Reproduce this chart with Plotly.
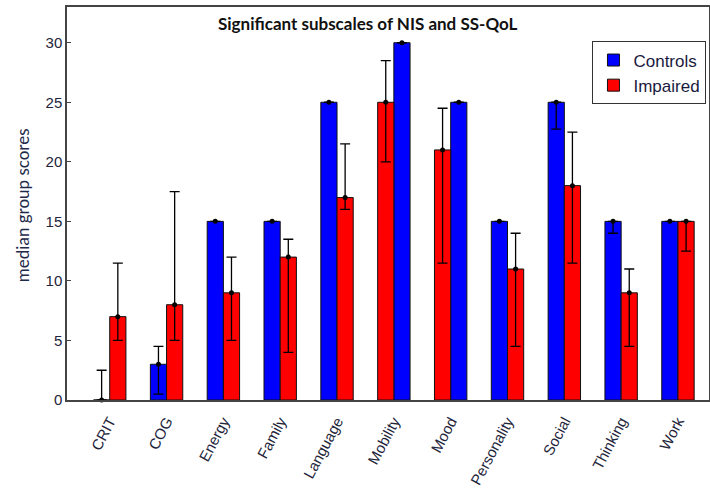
import plotly.graph_objects as go

# Subscales (x categories)
categories = ["CRIT", "COG", "Energy", "Family", "Language", "Mobility",
              "Mood", "Personality", "Social", "Thinking", "Work"]

# Controls: median score with lower/upper range
controls_median = [0, 3, 15, 15, 25, 30, 25, 15, 25, 15, 15]
controls_low = [0, 0.5, 15, 15, 25, 30, 25, 15, 22.75, 14, 15]
controls_high = [2.5, 4.5, 15, 15, 25, 30, 25, 15, 25, 15, 15]

# Impaired: median score with lower/upper range
impaired_median = [7, 8, 9, 12, 17, 25, 21, 11, 18, 9, 15]
impaired_low = [5, 5, 5, 4, 16, 20, 11.5, 4.5, 11.5, 4.5, 12.5]
impaired_high = [11.5, 17.5, 12, 13.5, 21.5, 28.5, 24.5, 14, 22.5, 11, 15]

# Which group is drawn on the left of each pair
left_group = ["C", "C", "C", "C", "C", "I", "I", "C", "C", "C", "C"]

BAR_W = 0.285
BLUE = "#0000FF"
RED = "#FF0000"

idx = list(range(len(categories)))
c_off = [-BAR_W if g == "C" else 0.0 for g in left_group]
i_off = [0.0 if g == "C" else -BAR_W for g in left_group]

fig = go.Figure()


def add_group(name, color, med, low, high, offs):
    fig.add_trace(go.Bar(
        x=idx, y=med, name=name, width=BAR_W, offset=offs,
        marker=dict(color=color, line=dict(color="#111111", width=1)),
    ))
    centers = [i + o + BAR_W / 2 for i, o in zip(idx, offs)]
    fig.add_trace(go.Scatter(
        x=centers, y=med, mode="markers", showlegend=False, cliponaxis=False,
        marker=dict(color="black", size=5),
        error_y=dict(type="data", symmetric=False,
                     array=[h - m for h, m in zip(high, med)],
                     arrayminus=[m - l for m, l in zip(med, low)],
                     color="black", thickness=1.3, width=5),
        hoverinfo="skip",
    ))


add_group("Controls", BLUE, controls_median, controls_low, controls_high, c_off)
add_group("Impaired", RED, impaired_median, impaired_low, impaired_high, i_off)

xtick_font = dict(family="Liberation Sans, Arial", size=15, color="#22243a")
ytick_font = dict(family="Liberation Sans, Arial", size=15, color="#22243a")

fig.update_layout(
    width=710, height=490,
    margin=dict(l=67, r=1, t=7, b=90, autoexpand=False),
    paper_bgcolor="white", plot_bgcolor="white",
    barmode="overlay",
    showlegend=True,
    legend=dict(
        x=0.818, y=0.913, xanchor="left", yanchor="top",
        bgcolor="white", bordercolor="#333333", borderwidth=1.3,
        font=dict(family="Liberation Sans, Arial", size=17, color="#1a1a40"),
        tracegroupgap=6,
    ),
    xaxis=dict(
        range=[-0.752, 10.546], tickmode="array", tickvals=idx,
        ticktext=categories, tickangle=-62, tickfont=xtick_font,
        ticklabelstandoff=5, automargin=False,
        showgrid=False, zeroline=False, showline=True, mirror=True,
        linecolor="#444444", linewidth=1.5, ticks="",
    ),
    yaxis=dict(
        range=[0, 33], tickvals=[0, 5, 10, 15, 20, 25, 30], tickfont=ytick_font,
        automargin=False,
        showgrid=False, zeroline=False, showline=True, mirror=True,
        linecolor="#444444", linewidth=1.5, ticks="inside", ticklen=4,
        tickcolor="#444444",
    ),
    annotations=[
        dict(text="<b>Significant subscales of NIS and SS-QoL</b>",
             xref="paper", yref="paper", x=0.469, y=0.957,
             xanchor="center", yanchor="middle", showarrow=False,
             font=dict(family="Lato", size=17, color="#111111")),
        dict(text="median group scores", textangle=-90,
             xref="paper", yref="paper", x=-0.070, y=0.496,
             xanchor="center", yanchor="middle", showarrow=False,
             font=dict(family="Lato", size=17, color="#1f2a4a")),
    ],
)

fig.write_html("out.html")
